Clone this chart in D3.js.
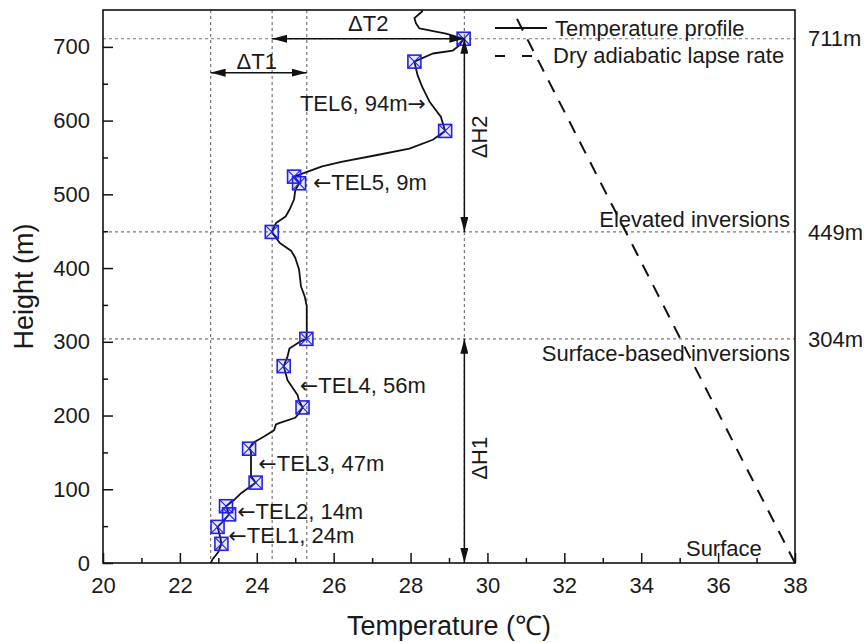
<!DOCTYPE html>
<html>
<head>
<meta charset="utf-8">
<script src="https://cdn.jsdelivr.net/npm/d3@7"></script>
<style>
  body { margin: 0; background: #fff; }
  text { font-family: "Liberation Sans", Arial, sans-serif; fill: #1a1a1a; }
</style>
</head>
<body>
<div id="chart"></div>
<script>
// Temperature profile, bottom to top
const profileTemp = [22.8, 22.85, 23.0, 23.08, 23.05, 22.98, 23.1, 23.28, 23.2, 23.4, 23.6, 23.97,
  23.85, 23.85, 23.8, 23.9, 24.2, 24.45, 24.5, 24.6, 25.0, 25.1, 25.19, 25.1, 25.06, 24.8, 24.7,
  24.8, 24.85, 25.12, 25.29, 25.3, 25.3, 25.25, 25.15, 25.1, 25.0, 24.9, 24.6, 24.39, 24.5, 24.75,
  24.85, 24.97, 25.0, 25.1, 24.97, 25.7, 26.2, 27.1, 27.97, 28.58, 28.9, 28.79, 28.66, 28.49, 28.3,
  28.18, 28.1, 28.58, 29.1, 29.27, 29.38, 28.92, 28.23, 28.14, 28.1, 28.3, 28.3];
const profileHeight = [0, 5, 15, 26, 35, 49, 55, 66, 77, 85, 95, 109,
  118, 152, 155, 163, 172, 180, 188, 190, 197, 203, 211, 220, 228, 248, 267,
  280, 291, 300, 304, 315, 348, 361, 375, 398, 414, 423, 434, 449, 461, 470,
  479, 493, 505, 515, 524, 538, 544, 553, 562, 574, 586, 605, 614, 626, 646,
  662, 680, 691, 695, 702, 711, 718, 725, 732, 739, 748, 750];

// Boxed markers (layer boundaries)
const markerTemp = [23.08, 22.98, 23.28, 23.2, 23.97, 23.8, 25.19, 24.7, 25.29, 24.39, 25.1, 24.97, 28.9, 28.1, 29.38];
const markerHeight = [26, 49, 66, 77, 109, 155, 211, 267, 304, 449, 515, 524, 586, 680, 711];

// Dry adiabatic lapse rate line
const adiabatTemp = [38, 30.65];
const adiabatHeight = [0, 750];

// Axes
const xTicks = [20, 22, 24, 26, 28, 30, 32, 34, 36, 38];
const xMinorTicks = [21, 23, 25, 27, 29, 31, 33, 35, 37];
const yTicks = [0, 100, 200, 300, 400, 500, 600, 700];
const yMinorTicks = [50, 150, 250, 350, 450, 550, 650];

// Reference lines
const refTemps = [22.8, 24.4, 25.3, 29.4];
const levelHeights = [711, 449, 304];
const levelLabels = ["711m", "449m", "304m"];

// TEL annotations
const telText = ["←TEL1, 24m", "←TEL2, 14m", "←TEL3, 47m", "←TEL4, 56m", "←TEL5, 9m", "TEL6, 94m→"];
const telT = [23.26, 23.49, 24.04, 25.12, 25.46, 28.4];
const telH = [37, 70, 135, 241, 516, 624];
const telAnchor = ["start", "start", "start", "start", "start", "end"];

const margin = { top: 10, right: 69, bottom: 80, left: 103 };
const width = 864 - margin.left - margin.right;
const height = 643 - margin.top - margin.bottom;

const root = d3.select("#chart")
  .append("svg")
  .attr("width", 864)
  .attr("height", 643);

const svg = root.append("g")
  .attr("transform", `translate(${margin.left},${margin.top})`);

const x = d3.scaleLinear().domain([20, 38]).range([0, width]);
const y = d3.scaleLinear().domain([0, 750]).range([height, 0]);

const defs = svg.append("defs");
defs.append("marker")
  .attr("id", "arrow")
  .attr("viewBox", "0 0 15 8")
  .attr("refX", 15).attr("refY", 4)
  .attr("markerWidth", 15).attr("markerHeight", 8)
  .attr("markerUnits", "userSpaceOnUse")
  .attr("orient", "auto-start-reverse")
  .append("path").attr("d", "M0,0L15,4L0,8Z").attr("fill", "#111");
defs.append("clipPath").attr("id", "plot-clip")
  .append("rect").attr("width", width).attr("height", height);

// dotted reference lines
svg.append("g").selectAll("line").data(refTemps).join("line")
  .attr("x1", d => x(d)).attr("x2", d => x(d))
  .attr("y1", 0).attr("y2", height)
  .attr("stroke", "#777").attr("stroke-width", 1.2).attr("stroke-dasharray", "3,3");
svg.append("g").selectAll("line").data(levelHeights).join("line")
  .attr("x1", 0).attr("x2", width)
  .attr("y1", d => y(d)).attr("y2", d => y(d))
  .attr("stroke", "#777").attr("stroke-width", 1.2).attr("stroke-dasharray", "3,3");

// axes with inward ticks
const fontSize = 22;
svg.append("g")
  .attr("transform", `translate(0,${height})`)
  .call(d3.axisBottom(x).tickValues(xMinorTicks).tickSize(-5).tickSizeOuter(0).tickFormat(""));
const xAxis = svg.append("g")
  .attr("transform", `translate(0,${height})`)
  .call(d3.axisBottom(x).tickValues(xTicks).tickSize(-10).tickSizeOuter(0).tickPadding(14));
svg.append("g")
  .call(d3.axisLeft(y).tickValues(yMinorTicks).tickSize(-5).tickSizeOuter(0).tickFormat(""));
const yAxis = svg.append("g")
  .call(d3.axisLeft(y).tickValues(yTicks).tickSize(-10).tickSizeOuter(0).tickPadding(13));

svg.selectAll(".tick line").attr("stroke", "#111").attr("stroke-width", 1.5);
svg.selectAll(".domain").remove();
svg.selectAll(".tick text")
  .style("font-family", '"Liberation Sans", Arial, sans-serif')
  .style("font-size", fontSize + "px")
  .attr("fill", "#1a1a1a");

// frame
svg.append("rect")
  .attr("width", width).attr("height", height)
  .attr("fill", "none").attr("stroke", "#111").attr("stroke-width", 1.6);

// axis titles
svg.append("text")
  .attr("x", width / 2).attr("y", height + 72)
  .attr("text-anchor", "middle")
  .style("font-size", "27px")
  .text("Temperature (℃)");
svg.append("text")
  .attr("transform", `translate(${33 - margin.left},${height / 2}) rotate(-90)`)
  .attr("text-anchor", "middle")
  .style("font-size", "27px")
  .text("Height (m)");

// dry adiabat
const adiabat = adiabatTemp.map((t, i) => ({ t: t, h: adiabatHeight[i] }));
svg.append("path")
  .datum(adiabat)
  .attr("clip-path", "url(#plot-clip)")
  .attr("fill", "none")
  .attr("stroke", "#111")
  .attr("stroke-width", 2)
  .attr("stroke-dasharray", "13,10")
  .attr("d", d3.line().x(d => x(d.t)).y(d => y(d.h)));

// temperature profile
const profile = profileTemp.map((t, i) => ({ t: t, h: profileHeight[i] }));
svg.append("path")
  .datum(profile)
  .attr("clip-path", "url(#plot-clip)")
  .attr("fill", "none")
  .attr("stroke", "#111")
  .attr("stroke-width", 1.8)
  .attr("stroke-linejoin", "round")
  .attr("d", d3.line().x(d => x(d.t)).y(d => y(d.h)));

// boxed markers
const ms = 6.5;
const marks = svg.append("g").selectAll("g")
  .data(markerTemp.map((t, i) => ({ t: t, h: markerHeight[i] })))
  .join("g")
  .attr("transform", d => `translate(${x(d.t)},${y(d.h)})`);
marks.append("rect")
  .attr("x", -ms).attr("y", -ms).attr("width", 2 * ms).attr("height", 2 * ms)
  .attr("fill", "rgba(60,60,255,0.12)").attr("stroke", "#2323e8").attr("stroke-width", 1.6);
marks.append("path")
  .attr("d", `M${-ms},${-ms}L${ms},${ms}M${-ms},${ms}L${ms},${-ms}`)
  .attr("stroke", "#2323e8").attr("stroke-width", 1.1);

// delta arrows
const arrows = [
  { t1: 22.8, h1: 665, t2: 25.3, h2: 665 },
  { t1: 24.4, h1: 711, t2: 29.4, h2: 711 },
  { t1: 29.4, h1: 711, t2: 29.4, h2: 449 },
  { t1: 29.4, h1: 304, t2: 29.4, h2: 0 }
];
svg.append("g").selectAll("line").data(arrows).join("line")
  .attr("x1", d => x(d.t1)).attr("y1", d => y(d.h1))
  .attr("x2", d => x(d.t2)).attr("y2", d => y(d.h2))
  .attr("stroke", "#111").attr("stroke-width", 1.5)
  .attr("marker-start", "url(#arrow)").attr("marker-end", "url(#arrow)");

svg.append("text").attr("x", x(24.0)).attr("y", y(670))
  .attr("text-anchor", "middle").style("font-size", fontSize + "px").text("ΔT1");
svg.append("text").attr("x", x(26.9)).attr("y", y(722))
  .attr("text-anchor", "middle").style("font-size", fontSize + "px").text("ΔT2");
svg.append("text")
  .attr("transform", `translate(${x(30.0)},${y(578)}) rotate(-90)`)
  .attr("text-anchor", "middle").style("font-size", fontSize + "px").text("ΔH2");
svg.append("text")
  .attr("transform", `translate(${x(30.0)},${y(142)}) rotate(-90)`)
  .attr("text-anchor", "middle").style("font-size", fontSize + "px").text("ΔH1");

// TEL labels; the arrow glyph is taken from DejaVu for a longer shaft
svg.append("g").selectAll("text").data(telText).join("text")
  .attr("x", (d, i) => x(telT[i]))
  .attr("y", (d, i) => y(telH[i]))
  .attr("dy", "0.35em")
  .attr("text-anchor", (d, i) => telAnchor[i])
  .style("font-size", fontSize + "px")
  .each(function (d) {
    const t = d3.select(this);
    d.split(/([←→])/).filter(s => s.length).forEach(part => {
      const span = t.append("tspan").text(part);
      if (part === "←" || part === "→") span.style("font-family", '"DejaVu Sans", sans-serif');
    });
  });

// region labels
svg.append("text").attr("x", width - 5).attr("y", y(466)).attr("dy", "0.35em")
  .attr("text-anchor", "end").style("font-size", fontSize + "px").text("Elevated inversions");
svg.append("text").attr("x", width - 5).attr("y", y(285)).attr("dy", "0.35em")
  .attr("text-anchor", "end").style("font-size", fontSize + "px").text("Surface-based inversions");
svg.append("text").attr("x", x(36.15)).attr("y", y(20)).attr("dy", "0.35em")
  .attr("text-anchor", "middle").style("font-size", fontSize + "px").text("Surface");

// level labels to the right of the frame
svg.append("g").selectAll("text").data(levelLabels).join("text")
  .attr("x", width + 13)
  .attr("y", (d, i) => y(levelHeights[i]))
  .attr("dy", "0.35em")
  .style("font-size", fontSize + "px")
  .text(d => d);

// legend
const legend = svg.append("g").attr("transform", "translate(392,18)");
legend.append("line").attr("x1", 0).attr("x2", 52).attr("y1", 0).attr("y2", 0)
  .attr("stroke", "#111").attr("stroke-width", 1.8);
legend.append("text").attr("x", 60).attr("y", 0).attr("dy", "0.35em")
  .style("font-size", fontSize + "px").text("Temperature profile");
legend.append("line").attr("x1", 0).attr("x2", 37).attr("y1", 28).attr("y2", 28)
  .attr("stroke", "#111").attr("stroke-width", 2).attr("stroke-dasharray", "10,17");
legend.append("text").attr("x", 58).attr("y", 27).attr("dy", "0.35em")
  .style("font-size", fontSize + "px").text("Dry adiabatic lapse rate");
</script>
</body>
</html>
